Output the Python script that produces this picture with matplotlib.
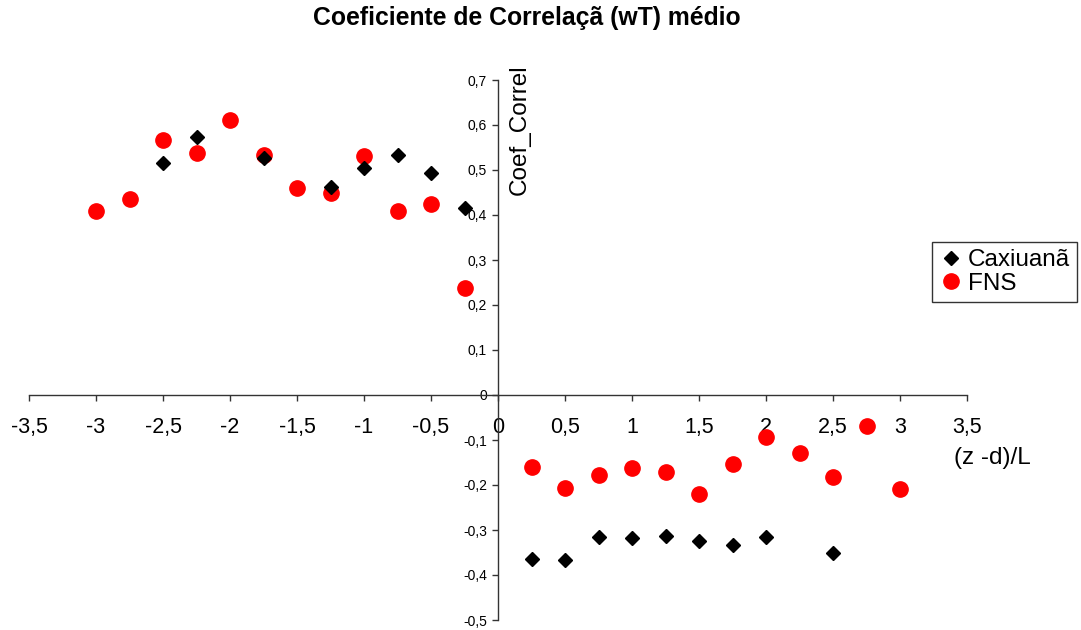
import matplotlib.pyplot as plt
from matplotlib.ticker import FuncFormatter, MultipleLocator

plt.rcParams['font.family'] = ['Liberation Sans', 'DejaVu Sans']

# Caxiuanã (black diamonds)
cax_x = [-2.5, -2.25, -1.75, -1.25, -1.0, -0.75, -0.5, -0.25,
         0.25, 0.5, 0.75, 1.0, 1.25, 1.5, 1.75, 2.0, 2.5]
cax_y = [0.516, 0.573, 0.527, 0.463, 0.505, 0.533, 0.493, 0.415,
         -0.365, -0.367, -0.316, -0.318, -0.314, -0.324, -0.333, -0.315, -0.350]

# FNS (red circles)
fns_x = [-3.0, -2.75, -2.5, -2.25, -2.0, -1.75, -1.5, -1.25, -1.0, -0.75, -0.5, -0.25,
         0.25, 0.5, 0.75, 1.0, 1.25, 1.5, 1.75, 2.0, 2.25, 2.5, 2.75, 3.0]
fns_y = [0.410, 0.435, 0.567, 0.537, 0.611, 0.533, 0.459, 0.450, 0.532, 0.410, 0.424, 0.238,
         -0.159, -0.207, -0.178, -0.163, -0.172, -0.220, -0.153, -0.093, -0.129, -0.182, -0.069, -0.208]


def comma(v, pos):
    if abs(v) < 1e-9:
        return "0"
    return f"{v:g}".replace(".", ",")


fig = plt.figure(figsize=(10.81, 6.30), dpi=100, facecolor="white")
ax = fig.add_axes([29 / 1081, 10 / 630, 938 / 1081, 540 / 630])

ax.plot(cax_x, cax_y, linestyle="none", marker="D", markersize=6.8,
        color="black", label="Caxiuanã", zorder=3)
ax.plot(fns_x, fns_y, linestyle="none", marker="o", markersize=11,
        color="#ff0000", markeredgecolor="#ff0000", label="FNS", zorder=2)

ax.set_xlim(-3.5, 3.5)
ax.set_ylim(-0.5, 0.7)
ax.xaxis.set_major_locator(MultipleLocator(0.5))
ax.yaxis.set_major_locator(MultipleLocator(0.1))
ax.xaxis.set_major_formatter(FuncFormatter(comma))
ax.yaxis.set_major_formatter(FuncFormatter(comma))

for side in ("top", "right"):
    ax.spines[side].set_visible(False)
ax.spines["left"].set_position(("data", 0))
ax.spines["bottom"].set_position(("data", 0))
for side in ("left", "bottom"):
    ax.spines[side].set_color("#333333")
    ax.spines[side].set_linewidth(1.0)

ax.tick_params(axis="x", direction="out", length=4, width=1, color="#333333",
               labelsize=15.5, pad=12)
ax.tick_params(axis="y", direction="out", length=4, width=1, color="#333333",
               labelsize=10, pad=4)

fig.text(0.487, 0.971, "Coeficiente de Correlaçã (wT) médio", ha="center", va="center",
         fontsize=17.8, fontweight="bold")
fig.text(520 / 1081, 1 - 130 / 630, "Coef_Correl", rotation=90, ha="center", va="center",
         fontsize=17.5)
fig.text(992 / 1081, 1 - 458 / 630, "(z -d)/L", ha="center", va="center", fontsize=17.5)

leg = fig.legend(loc="upper left", bbox_to_anchor=(932 / 1081, 1 - 242 / 630),
                 fontsize=17.5, frameon=True, fancybox=False, shadow=False,
                 borderpad=0.3, handletextpad=0.17, handlelength=1.0, labelspacing=0.05,
                 borderaxespad=0)
leg.get_frame().set_edgecolor("black")
leg.get_frame().set_linewidth(1.0)

fig.savefig("out.png", dpi=100, facecolor="white")
